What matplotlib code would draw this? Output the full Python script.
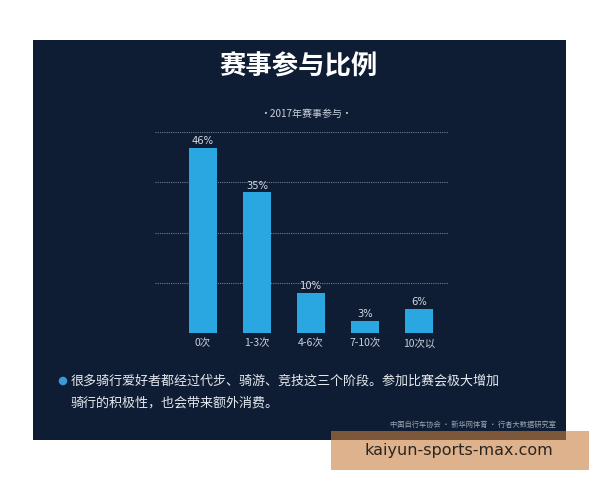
import matplotlib
matplotlib.use("Agg")
import matplotlib.pyplot as plt
from matplotlib.patches import Rectangle, Ellipse

plt.rcParams['font.family'] = ['Noto Sans CJK SC', 'DejaVu Sans']

categories = ["0次", "1-3次", "4-6次", "7-10次", "10次以"]
values = [46, 35, 10, 3, 6]
value_labels = ["46%", "35%", "10%", "3%", "6%"]
grid_levels = [0, 12.5, 25, 37.5, 50]

title = "赛事参与比例"
subtitle = "·2017年赛事参与·"
note_line1 = "很多骑行爱好者都经过代步、骑游、竞技这三个阶段。参加比赛会极大增加"
note_line2 = "骑行的积极性，也会带来额外消费。"
source = "中国自行车协会 · 新华网体育 · 行者大数据研究室"
watermark = "kaiyun-sports-max.com"

W, H = 600, 480
fig = plt.figure(figsize=(6, 4.8), dpi=100)
fig.patch.set_facecolor("white")

def fx(px):
    return px / W

def fy(py):
    return 1 - py / H

navy = "#0f1d34"
fig.add_artist(Rectangle((fx(33), fy(440)), fx(566) - fx(33), fy(40) - fy(440),
                         transform=fig.transFigure, facecolor=navy,
                         edgecolor="none", zorder=-10))

ax = fig.add_axes([fx(155), fy(333), fx(448) - fx(155), fy(132) - fy(333)])
ax.set_zorder(2)
ax.set_facecolor("none")
x = list(range(len(categories)))
ax.bar(x, values, width=0.52, color="#2aa6e0", zorder=3)
for xi, v, lab in zip(x, values, value_labels):
    ax.text(xi, v + 0.4, lab, ha="center", va="bottom", color="#d5dbe4",
            fontsize=7.2, family=['DejaVu Sans'])
for g in grid_levels:
    ax.axhline(g, color="#6d7a92", lw=0.8, ls=(0, (1, 1)), zorder=1)
ax.set_xlim(-0.89, 4.54)
ax.set_ylim(0, 50)
ax.set_yticks([])
ax.set_xticks(x)
ax.set_xticklabels(categories, color="#c9d0dc", fontsize=7.5)
ax.tick_params(axis="x", length=0, pad=4)
for s in ax.spines.values():
    s.set_visible(False)

fig.text(fx(299), fy(67), title, ha="center", va="center", color="white",
         fontsize=19, fontweight="bold")
fig.text(fx(306), fy(114), subtitle, ha="center", va="center", color="#c9d0dc",
         fontsize=7.2)

fig.add_artist(Ellipse((fx(63), fy(381)), width=8.5 / W, height=8.5 / H,
                       transform=fig.transFigure, facecolor="#3a9ad9",
                       edgecolor="none", zorder=3))

fig.text(fx(71), fy(381), note_line1, ha="left", va="center", color="#e6eaf0",
         fontsize=9.4)
fig.text(fx(71), fy(403), note_line2, ha="left", va="center", color="#e6eaf0",
         fontsize=9.4)
fig.text(fx(556), fy(425), source, ha="right", va="center", color="#9aa3b2",
         fontsize=5.2)

fig.add_artist(Rectangle((fx(331), fy(470)), fx(589) - fx(331), fy(431) - fy(470),
                         transform=fig.transFigure, facecolor=(200/255, 127/255, 63/255),
                         alpha=0.6, edgecolor="none", zorder=5))
fig.text(fx(459), fy(451), watermark, ha="center", va="center", color="#2b2622",
         fontsize=11.5, family=['DejaVu Sans'], zorder=6)

fig.savefig("out.png", dpi=100, facecolor="white")
